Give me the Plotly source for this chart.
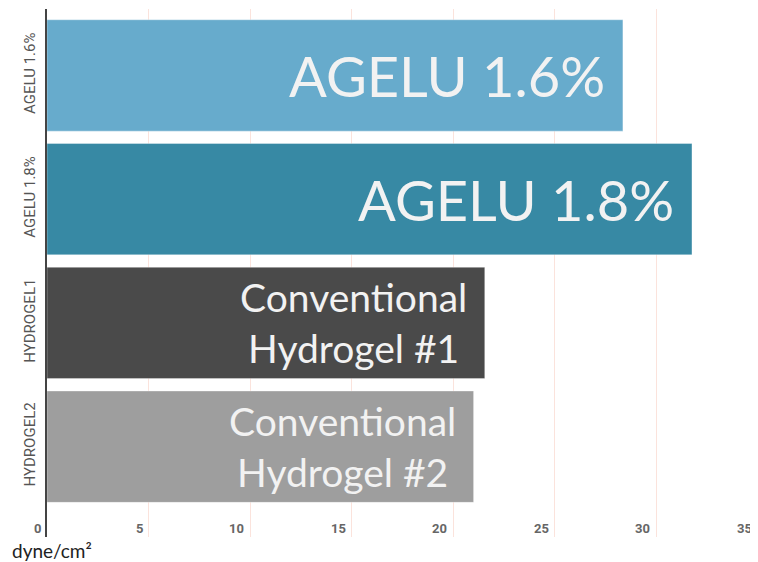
import plotly.graph_objects as go

categories = ["AGELU 1.6%", "AGELU 1.8%", "HYDROGEL1", "HYDROGEL2"]
values = [28.35, 31.75, 21.55, 21.0]
bar_labels = ["AGELU 1.6%", "AGELU 1.8%", "Conventional<br>Hydrogel #1", "Conventional<br>Hydrogel #2"]
label_sizes = [56, 56, 39, 39]
colors = ["#67ABCC", "#3789A4", "#4A4A4A", "#9E9E9E"]
x_ticks = [0, 5, 10, 15, 20, 25, 30, 35]

fig = go.Figure()
fig.add_trace(go.Bar(
    y=categories, x=values, orientation="h",
    marker=dict(color=colors, line=dict(color="rgba(255,255,255,0.35)", width=1)),
    hoverinfo="skip", showlegend=False,
))

for cat, val, lab, sz in zip(categories, values, bar_labels, label_sizes):
    fig.add_annotation(
        x=val, y=cat, xref="x", yref="y", text=lab, showarrow=False,
        xanchor="right", yanchor="middle", xshift=-16, align="center",
        font=dict(family="Lato", size=sz, color="#F2F2F2"),
    )

# x tick labels placed left of their gridlines
for t in x_ticks:
    fig.add_annotation(
        x=t, y=0, xref="x", yref="paper", text=str(t), showarrow=False,
        xanchor="right", yanchor="middle", xshift=-4, yshift=9,
        font=dict(family="Roboto", size=13, color="#666", weight="bold"),
    )

fig.add_annotation(
    x=-37 / 711, y=0, xref="paper", yref="paper",
    text="dyne/cm²", showarrow=False,
    xanchor="left", yanchor="middle", yshift=-13,
    font=dict(family="Lato", size=19, color="#222"),
)

fig.update_layout(
    width=750, height=554,
    margin=dict(l=39, r=0, t=1, b=25, autoexpand=False),
    paper_bgcolor="white", plot_bgcolor="white",
    bargap=0.1,
    xaxis=dict(
        range=[0, 35], tickvals=x_ticks, showgrid=True, gridcolor="#FBE3DC", gridwidth=1,
        zeroline=False, showline=False, ticks="", showticklabels=False, automargin=False,
    ),
    yaxis=dict(
        range=[3.5 + 0.23, -0.5 - 0.037], showline=True, linecolor="#444", linewidth=2,
        showgrid=False, zeroline=False, ticks="", tickangle=-90, automargin=False,
        ticklabelstandoff=4,
        tickfont=dict(family="Liberation Sans Narrow, Roboto", size=15, color="#555"),
    ),
)

fig.write_html("out.html")
